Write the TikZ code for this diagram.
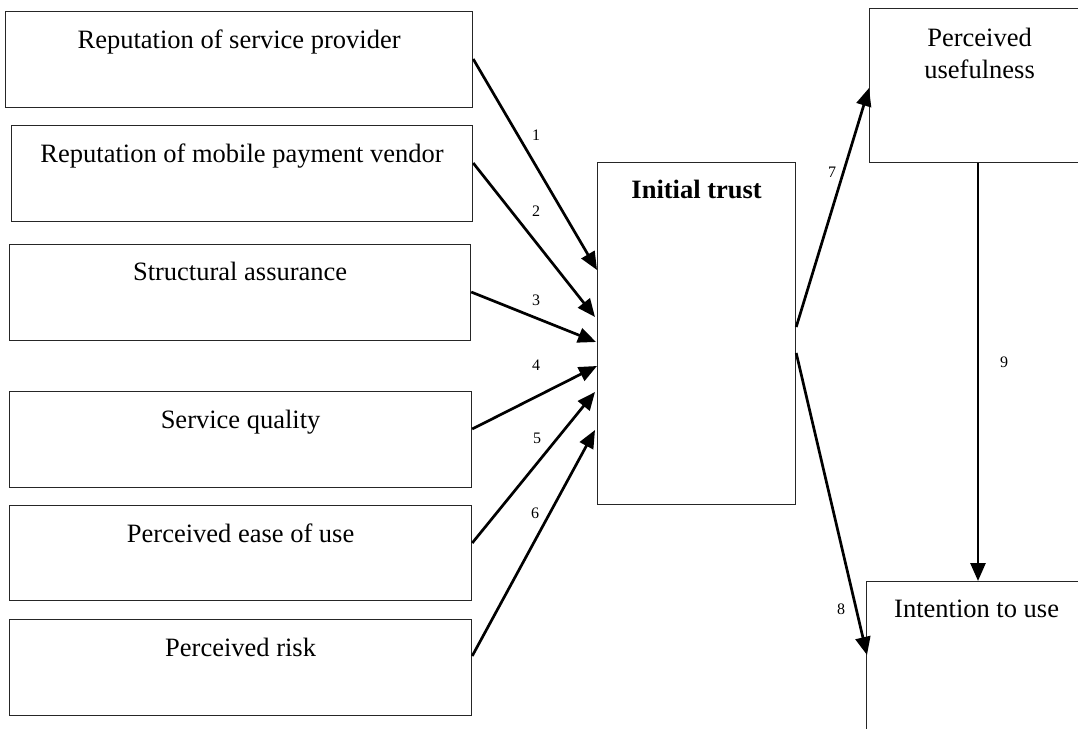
\documentclass[tikz,border=0pt]{standalone}
\usepackage{fontspec}
\setmainfont{Liberation Serif}
\usetikzlibrary{arrows.meta}

\tikzset{
  factor/.style={draw=black!85, line width=1.2pt, rectangle, anchor=north west, inner sep=0pt},
  caption/.style={anchor=base, inner sep=0pt, font=\fontsize{26.5}{31}\selectfont},
  pathno/.style={inner sep=0pt, font=\fontsize{16}{18}\selectfont},
  link/.style={line width=2.7pt, -{Triangle[length=18pt, width=15pt]}}
}

\begin{document}
\begin{tikzpicture}[x=1pt, y=-1pt]
  \useasboundingbox (0,0) rectangle (1078,728);
  \clip (0,0) rectangle (1078,728);
  \fill[white] (0,0) rectangle (1078,728);

  % antecedent constructs
  \node[factor, minimum width=467pt, minimum height=96pt] (b1) at (5,11) {};
  \node[factor, minimum width=461pt, minimum height=96pt] (b2) at (11,125) {};
  \node[factor, minimum width=461pt, minimum height=96pt] (b3) at (9,244) {};
  \node[factor, minimum width=462pt, minimum height=96pt] (b4) at (9,391) {};
  \node[factor, minimum width=462pt, minimum height=95pt] (b5) at (9,505) {};
  \node[factor, minimum width=462pt, minimum height=96pt] (b6) at (9,619) {};

  \node[caption] (t1) at ([yshift=-37pt]b1.north) {Reputation of service provider};
  \node[caption] (t2) at ([yshift=-37pt]b2.north) {Reputation of mobile payment vendor};
  \node[caption] (t3) at ([yshift=-36pt]b3.north) {Structural assurance};
  \node[caption] (t4) at ([yshift=-37pt]b4.north) {Service quality};
  \node[caption] (t5) at ([yshift=-37pt]b5.north) {Perceived ease of use};
  \node[caption] (t6) at ([yshift=-37pt]b6.north) {Perceived risk};

  % mediator
  \node[factor, minimum width=198pt, minimum height=342pt] (it) at (597,162) {};
  \node[caption, font=\fontsize{26.5}{31}\selectfont\bfseries] (tit) at ([yshift=-36pt]it.north) {Initial trust};

  % outcome constructs (running past the right edge)
  \node[factor, minimum width=220pt, minimum height=154pt] (pu) at (869,8) {};
  \node[caption] (tpu1) at ([yshift=-38pt]pu.north) {Perceived};
  \node[caption] (tpu2) at ([yshift=-70pt]pu.north) {usefulness};
  \node[factor, minimum width=220pt, minimum height=180pt] (iu) at (866,581) {};
  \node[caption] (tiu) at ([yshift=-36pt]iu.north) {Intention to use};

  % paths into initial trust
  \draw[link] ([yshift=-48pt]b1.north east) -- ([yshift=-108pt]it.north west);
  \draw[link] ([yshift=-38pt]b2.north east) -- ([xshift=-2pt,yshift=-155pt]it.north west);
  \draw[link] ([yshift=-48pt]b3.north east) -- ([xshift=-1pt,yshift=-180pt]it.north west);
  \draw[link] ([yshift=-38pt]b4.north east) -- ([yshift=-204pt]it.north west);
  \draw[link] ([yshift=-38pt]b5.north east) -- ([xshift=-2pt,yshift=-230pt]it.north west);
  \draw[link] ([yshift=-37pt]b6.north east) -- ([xshift=-2pt,yshift=-268pt]it.north west);

  % paths out of initial trust
  \draw[link] ([yshift=-165pt]it.north east) -- ([yshift=-80pt]pu.north west);
  \draw[link] ([yshift=-191pt]it.north east) -- ([xshift=1pt,yshift=-74pt]iu.north west);
  \draw[link] (pu.south -| 978,0) -- (iu.north -| 978,0);

  % path numbers
  \node[pathno] (n1) at (536,135) {1};
  \node[pathno] (n2) at (536,211) {2};
  \node[pathno] (n3) at (536,300) {3};
  \node[pathno] (n4) at (536,365) {4};
  \node[pathno] (n5) at (537,438) {5};
  \node[pathno] (n6) at (535,513) {6};
  \node[pathno] (n7) at (832,172) {7};
  \node[pathno] (n8) at (841,609) {8};
  \node[pathno] (n9) at (1004,362) {9};
\end{tikzpicture}
\end{document}
